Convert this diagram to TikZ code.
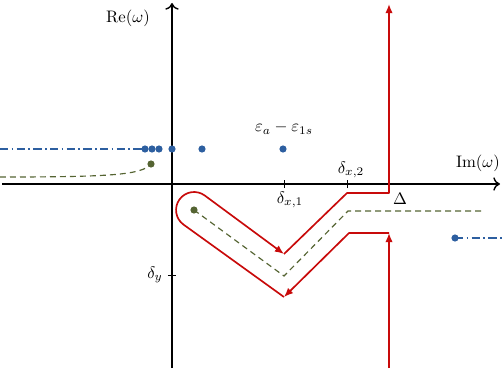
\documentclass[tikz,border=0pt]{standalone}
\usetikzlibrary{arrows.meta}
\definecolor{myblue}{RGB}{45,95,160}
\definecolor{mygreen}{RGB}{85,100,50}
\definecolor{myred}{RGB}{200,10,10}
\begin{document}
\begin{tikzpicture}[x=0.6pt,y=0.6pt,
  axis/.style={line width=0.85pt,-{To[length=4pt,width=8pt]}},
  tick/.style={line width=0.6pt},
  contour/.style={myred,line width=1pt,line join=round},
  contarrow/.style={contour,-{Latex[length=5.5pt,width=4.5pt]}},
  bluedot/.style={circle,fill=myblue,inner sep=0pt,minimum size=4.3pt},
  greendot/.style={circle,fill=mygreen,inner sep=0pt,minimum size=4.3pt},
  blueline/.style={myblue,line width=0.7pt,dash pattern=on 5pt off 2pt on 1pt off 2pt},
  greenline/.style={mygreen,line width=0.7pt,dash pattern=on 3.5pt off 2.5pt},
  lbl/.style={inner sep=1pt}]
\useasboundingbox (0,0) rectangle (504,372);
% axes
\coordinate (xl) at (2,188);
\coordinate (xr) at (500,188);
\coordinate (yb) at (172,4);
\coordinate (yt) at (172,369);
\draw[axis] (xl) -- (xr);
\draw[axis] (yb) -- (yt);
\node[lbl] (re) at (128,354) {Re$(\omega)$};
\node[lbl] (im) at (478,209) {Im$(\omega)$};
% ticks
\coordinate (t1) at (284,188);
\coordinate (t2) at (347,188);
\coordinate (ty) at (172,97);
\draw[tick] ([yshift=-2.5pt]t1) -- ([yshift=2.5pt]t1);
\draw[tick] ([yshift=-2.5pt]t2) -- ([yshift=2.5pt]t2);
\draw[tick] ([xshift=-2.5pt]ty) -- ([xshift=2.5pt]ty);
\node[lbl] (dx1) at (290,172) {$\delta_{x,1}$};
\node[lbl] (dx2) at (351,202) {$\delta_{x,2}$};
\node[lbl] (dy) at (155,97) {$\delta_y$};
\node[lbl] (Delta) at (400,173) {$\Delta$};
\node[lbl] (eps) at (284,244) {$\varepsilon_a-\varepsilon_{1s}$};
% blue line and dots
\coordinate (bl0) at (0,223);
\node[bluedot] (b1) at (145,223) {};
\node[bluedot] (b2) at (152,223) {};
\node[bluedot] (b3) at (159,223) {};
\node[bluedot] (b4) at (172,223) {};
\node[bluedot] (b5) at (202,223) {};
\node[bluedot] (b6) at (283,223) {};
\draw[blueline] (bl0) -- (b1.center);
\node[bluedot] (b7) at (455,134) {};
\coordinate (br) at (504,134);
\draw[blueline] (b7.center) -- (br);
% green
\node[greendot] (g1) at (151,208) {};
\coordinate (gl0) at (0,195);
\draw[greenline] (gl0) .. controls (110,195) and (142,197) .. (g1.center);
\node[greendot] (g2) at (194,162) {};
\coordinate (gv) at (284,96);
\coordinate (gk) at (348,161);
\coordinate (ge) at (482,161);
\draw[greenline] (g2.center) -- (gv) -- (gk) -- (ge);
% red contour
\coordinate (r0) at (389,4);
\coordinate (r1) at (389,139);
\coordinate (r2) at (349,139);
\coordinate (r3) at (284,75);
\coordinate (r4) at (183.4,147.5);
\coordinate (r5) at (204.6,176.5);
\coordinate (r6) at (284,118);
\coordinate (r7) at (347,179);
\coordinate (r8) at (389,179);
\coordinate (r9) at (389,368);
\draw[contarrow] (r0) -- (r1);
\draw[contarrow] (r1) -- (r2) -- (r3);
\draw[contarrow] (r3) -- (r4) arc[start angle=233.7,end angle=53.7,radius=18] -- (r6);
\draw[contarrow] (r6) -- (r7) -- (r8) -- (r9);
\end{tikzpicture}
\end{document}
